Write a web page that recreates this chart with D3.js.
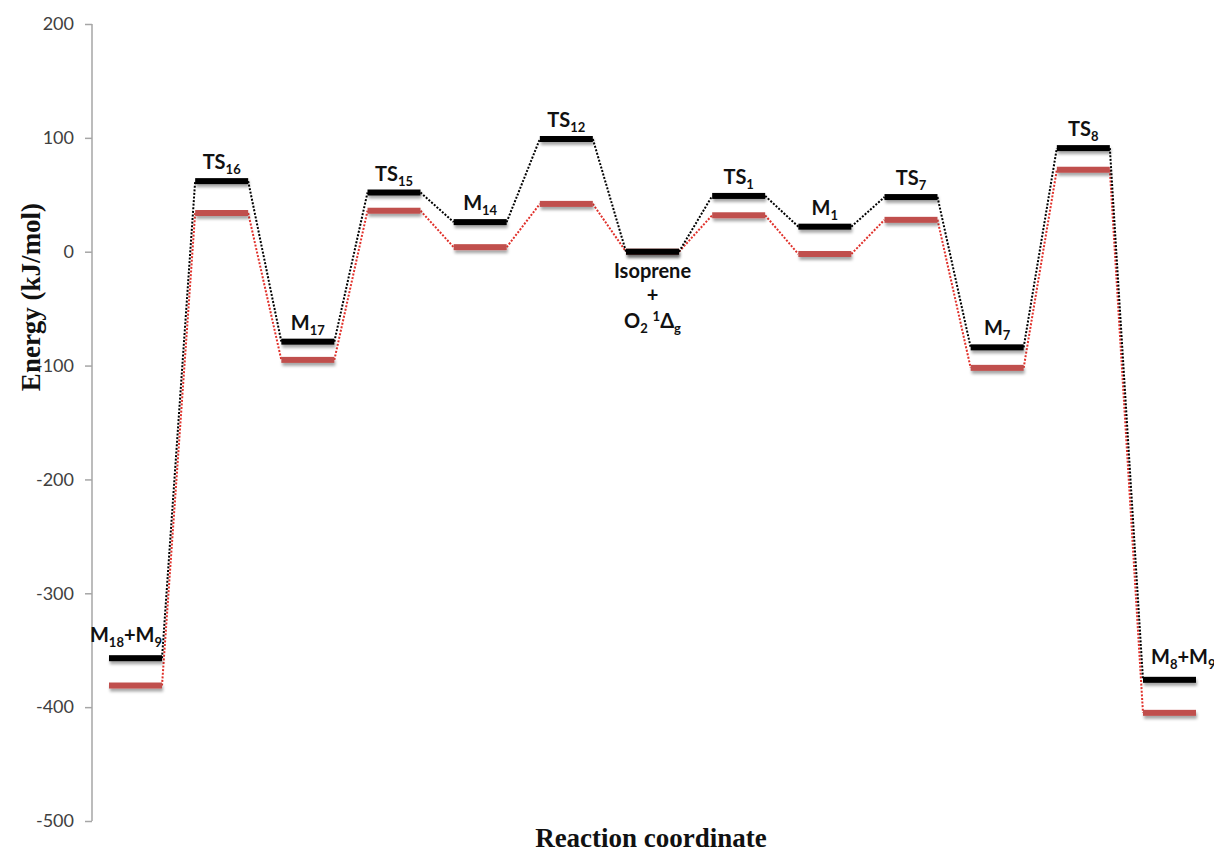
<!DOCTYPE html>
<html>
<head>
<meta charset="utf-8">
<script src="https://cdn.jsdelivr.net/npm/d3@7"></script>
<style>
  html, body { margin: 0; padding: 0; background: #fff; }
  svg { display: block; }
</style>
</head>
<body>
<svg id="chart" width="1214" height="852"></svg>
<script>
// ---- data ----
const categories = ["M18+M9", "TS16", "M17", "TS15", "M14", "TS12", "Isoprene", "TS1", "M1", "TS7", "M7", "TS8", "M8+M9"];
const blackValues = [-357, 62, -79, 52, 26, 99, 0, 49, 22, 48, -84, 91, -376];
const redValues   = [-381, 34, -95, 36, 4, 42, 0, 32, -2, 28, -102, 72, -405];
const yTicks = [200, 100, 0, -100, -200, -300, -400, -500];
const yTitle = "Energy (kJ/mol)";
const xTitle = "Reaction coordinate";

// ---- layout ----
const svg = d3.select("#chart");
const x = d3.scalePoint().domain(categories).range([135.5, 1169.5]);
const y = d3.scaleLinear().domain([-500, 200]).range([821, 24]);
const halfW = 26.5;
const barH = 6;

const defs = svg.append("defs");
const f = defs.append("filter").attr("id", "shadow").attr("x", "-20%").attr("y", "-100%").attr("width", "140%").attr("height", "400%");
f.append("feDropShadow").attr("dx", 1).attr("dy", 3).attr("stdDeviation", 1.6)
  .attr("flood-color", "#000").attr("flood-opacity", 0.35);

// y axis
const axisG = svg.append("g").attr("transform", "translate(92,0)")
  .call(d3.axisLeft(y).tickValues(yTicks).tickSize(7).tickPadding(11).tickFormat(d => String(d)));
axisG.select(".domain").attr("stroke", "#a6a6a6").attr("stroke-width", 1.5).attr("d", `M0,${y(200)}V${y(-500)}`);
axisG.selectAll(".tick line").attr("stroke", "#a6a6a6").attr("stroke-width", 1.5);
axisG.selectAll(".tick text").attr("font-family", "Lato, sans-serif").attr("font-size", 18).attr("fill", "#404040");

// connectors
function connectors(values, color) {
  const segs = d3.pairs(values.map((v, i) => ({ v, c: categories[i] })));
  svg.append("g").selectAll("line").data(segs).join("line")
    .attr("x1", d => x(d[0].c) + halfW).attr("y1", d => y(d[0].v))
    .attr("x2", d => x(d[1].c) - halfW).attr("y2", d => y(d[1].v))
    .attr("stroke", color).attr("stroke-width", 2).attr("stroke-dasharray", "2,1.6");
}
connectors(redValues, "#e0302a");
connectors(blackValues, "#000");

// levels
function levels(values, color) {
  svg.append("g").attr("filter", "url(#shadow)").selectAll("rect").data(values).join("rect")
    .attr("x", (d, i) => x(categories[i]) - halfW).attr("width", halfW * 2)
    .attr("y", d => y(d) - barH / 2).attr("height", barH)
    .attr("fill", color);
}
levels(redValues, "#c0504d");
levels(blackValues, "#000");

// labels
const labelG = svg.append("g").attr("font-family", "Lato, sans-serif").attr("font-weight", "bold")
  .attr("font-size", 20).attr("fill", "#111");

function addRich(textSel, str) {
  const parts = str.split(/(\d+)/).filter(s => s.length);
  let shifted = false;
  parts.forEach(p => {
    const isSub = /^\d+$/.test(p);
    const t = textSel.append("tspan").text(p);
    if (isSub && !shifted) { t.attr("font-size", 13).attr("dy", 5); shifted = true; }
    else if (!isSub && shifted) { t.attr("dy", -5); shifted = false; }
  });
}

const lastIdx = categories.length - 1;
categories.forEach((c, i) => {
  if (c === "Isoprene") return;
  let lx = x(c), anchor = "middle";
  if (i === 0) { lx = x(c) + halfW; anchor = "end"; }
  if (i === lastIdx) { lx = x(c) - halfW + 8; anchor = "start"; }
  const t = labelG.append("text").attr("x", lx).attr("y", y(blackValues[i]) - (i === 0 || i === lastIdx ? 16 : 12))
    .attr("text-anchor", anchor);
  addRich(t, c);
});

// Isoprene + O2 1Δg label below the level
const iso = categories.indexOf("Isoprene");
const ix = x(categories[iso]), iy = y(blackValues[iso]);
const isoG = labelG.append("g").attr("text-anchor", "middle");
isoG.append("text").attr("x", ix).attr("y", iy + 26).text("Isoprene");
isoG.append("text").attr("x", ix).attr("y", iy + 50).text("+");
const o2 = isoG.append("text").attr("x", ix).attr("y", iy + 76);
o2.append("tspan").text("O");
o2.append("tspan").attr("font-size", 13).attr("dy", 5).text("2");
o2.append("tspan").attr("dy", -5).text(" ");
o2.append("tspan").attr("font-size", 13).attr("dy", -7).text("1");
o2.append("tspan").attr("dy", 7).text("Δ");
o2.append("tspan").attr("font-size", 13).attr("dy", 5).text("g");

// axis titles
svg.append("text").attr("transform", "translate(40,297) rotate(-90)")
  .attr("text-anchor", "middle").attr("font-family", "'Liberation Serif', 'Times New Roman', serif")
  .attr("font-weight", "bold").attr("font-size", 27).attr("fill", "#111").text(yTitle);
svg.append("text").attr("x", 651).attr("y", 847)
  .attr("text-anchor", "middle").attr("font-family", "'Liberation Serif', 'Times New Roman', serif")
  .attr("font-weight", "bold").attr("font-size", 27).attr("fill", "#111").text(xTitle);
</script>
</body>
</html>
